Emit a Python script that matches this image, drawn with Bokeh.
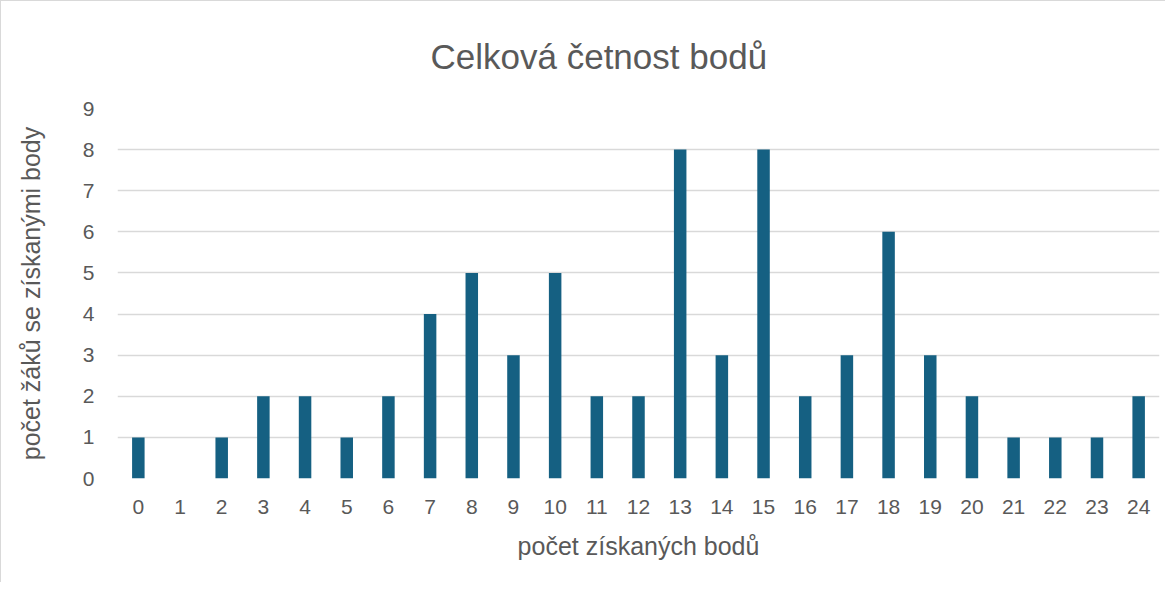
from bokeh.plotting import figure
from bokeh.models import FactorRange, Range1d, FixedTicker, Title
from bokeh.embed import file_html
from bokeh.resources import INLINE

points = [str(i) for i in range(25)]
counts = [1, 0, 1, 2, 2, 1, 2, 4, 5, 3, 5, 2, 2, 8, 3, 8, 2, 3, 6, 3, 2, 1, 1, 1, 2]
y_ticks = list(range(10))

FONT = "Liberation Sans"
TXT = "#595959"

p = figure(width=1165, height=582, x_range=FactorRange(*points, range_padding=0),
           y_range=Range1d(0, 9), output_backend="svg", toolbar_location=None,
           title="Celková četnost bodů",
           min_border_left=116, min_border_right=7, min_border_top=107, min_border_bottom=105)
p.styles = {"border-top": "1px solid #d9d9d9", "border-left": "1px solid #d9d9d9"}

p.vbar(x=points, top=counts, width=0.3, fill_color="#156082", line_color=None)

p.title.align = "left"
p.title.offset = 313
p.title.text_font = FONT
p.title.text_font_size = "35px"
p.title.text_font_style = "normal"
p.title.text_color = TXT
# spacer between title and plot area
p.add_layout(Title(text=" ", text_font_size="14px"), "above")

p.outline_line_color = None
p.xgrid.grid_line_color = None
p.ygrid.grid_line_color = "#d9d9d9"
p.ygrid.grid_line_width = 1.5
p.yaxis.ticker = FixedTicker(ticks=y_ticks)

for ax in (p.xaxis[0], p.yaxis[0]):
    ax.axis_line_color = None
    ax.major_tick_line_color = None
    ax.minor_tick_line_color = None
    ax.major_label_text_font = FONT
    ax.major_label_text_font_size = "21px"
    ax.major_label_text_color = TXT
    ax.axis_label_text_font = FONT
    ax.axis_label_text_font_size = "25px"
    ax.axis_label_text_font_style = "normal"
    ax.axis_label_text_color = TXT

p.xaxis.axis_label = "počet získaných bodů"
p.yaxis.axis_label = "počet žáků se získanými body"
p.xaxis.major_label_standoff = 15
p.yaxis.major_label_standoff = 17
p.xaxis.axis_label_standoff = 15
p.yaxis.axis_label_standoff = 35

open("out.html", "w").write(file_html(p, INLINE))
